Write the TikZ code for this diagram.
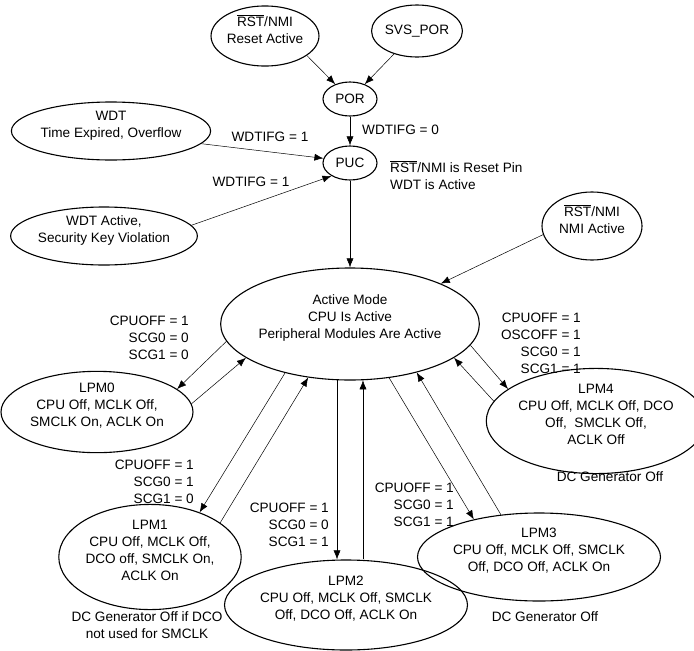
\documentclass[tikz,border=0pt]{standalone}
\usepackage{fontspec}
\setmainfont{Liberation Sans}
\usetikzlibrary{shapes.geometric,arrows.meta}
\newcommand{\rstbar}{$\overline{\mbox{RST}}$}

\begin{document}
\begin{tikzpicture}[x=1pt, y=-1pt, >={Latex[length=9pt,width=7pt]},
    font=\fontsize{13.6}{17}\selectfont,
    state/.style={ellipse, draw, line width=1.1pt, inner sep=0pt, align=center},
    multi/.style={state, text depth=14pt},
    conn/.style={->, line width=0.5pt},
    lbl/.style={inner sep=0pt, align=right, anchor=east},
    note/.style={inner sep=0pt, align=center}]

    \useasboundingbox (0,0) rectangle (694,651);

    % ----------------------------------------------------
    % 1. Sorgenti di reset
    % ----------------------------------------------------
    \node[multi, minimum width=100pt, minimum height=58pt] (rst) at (265,36) {\rstbar/NMI\\Reset Active};
    \node[state, minimum width=80pt, minimum height=52pt] (svs) at (417,31) {SVS\_POR};
    \node[state, minimum width=54pt, minimum height=34pt] (por) at (350,99) {POR};
    \node[state, minimum width=54pt, minimum height=34pt] (puc) at (350,163) {PUC};
    \node[multi, minimum width=172pt, minimum height=58pt] (wdtexp) at (111,131) {WDT\\Time Expired, Overflow};
    \node[multi, minimum width=174pt, minimum height=58pt] (wdtkey) at (104,236) {WDT Active,\\Security Key Violation};
    \node[multi, minimum width=100pt, minimum height=68pt] (nmi) at (592,226) {\rstbar/NMI\\NMI Active};

    \draw[conn] (rst.-25) -- (por.135);
    \draw[conn] (svs.-135) -- (por.45);
    \draw[conn] (por) -- (puc);
    \draw[conn] (wdtexp.-8) -- (puc.170);
    \draw[conn] (wdtkey.7) -- (puc.215);

    \node[note, anchor=west] (flag0) at (362,130) {WDTIFG = 0};
    \node[note] (flag1) at (270,137) {WDTIFG = 1};
    \node[note] (flag2) at (251,182) {WDTIFG = 1};
    \node[note, align=left, anchor=west] (pin) at (390,175) {\rstbar/NMI is Reset Pin\\WDT is Active};

    % ----------------------------------------------------
    % 2. Modo attivo e modi a basso consumo
    % ----------------------------------------------------
    \node[multi, minimum width=216pt, minimum height=112pt] (act) at (350,324) {Active Mode\\CPU Is Active\\Peripheral Modules Are Active};
    \node[multi, minimum width=192pt, minimum height=78pt] (lpm0) at (97,412) {LPM0\\CPU Off, MCLK Off,\\SMCLK On, ACLK On};
    \node[multi, minimum width=164pt, minimum height=86pt] (lpm1) at (150,557) {LPM1\\CPU Off, MCLK Off,\\DCO off, SMCLK On,\\ACLK On};
    \node[multi, minimum width=190pt, minimum height=90pt] (lpm2) at (346,605) {LPM2\\CPU Off, MCLK Off, SMCLK\\Off, DCO Off, ACLK On};
    \node[multi, minimum width=198pt, minimum height=88pt] (lpm3) at (539,557) {LPM3\\CPU Off, MCLK Off, SMCLK\\Off, DCO Off, ACLK On};
    \node[multi, minimum width=192pt, minimum height=84pt] (lpm4) at (596,421) {LPM4\\CPU Off, MCLK Off, DCO\\Off,\ \ SMCLK Off,\\ACLK Off};

    \draw[conn] (puc) -- (act);
    \draw[conn] (nmi.190) -- (act.24);

    \draw[conn] (act.188) -- (lpm0.16);
    \draw[conn] (lpm0.5) -- (act.198);
    \draw[conn] (act.217) -- (lpm1.42);
    \draw[conn] (lpm1.26) -- (act.232);
    \draw[conn] (act.257) -- (act.257 |- lpm2.north);
    \draw[conn] (lpm2.north -| act.283) -- (act.283);
    \draw[conn] (act.306) -- (lpm3.150);
    \draw[conn] (lpm3.132) -- (act.324);
    \draw[conn] (act.350) -- (lpm4.160);
    \draw[conn] (lpm4.169) -- (act.342);

    % bit di controllo
    \node[lbl] (bits0) at (189,338) {CPUOFF = 1\\SCG0 = 0\\SCG1 = 0};
    \node[lbl] (bits1) at (194,482) {CPUOFF = 1\\SCG0 = 1\\SCG1 = 0};
    \node[lbl] (bits2) at (329,525) {CPUOFF = 1\\SCG0 = 0\\SCG1 = 1};
    \node[lbl] (bits3) at (454,505) {CPUOFF = 1\\SCG0 = 1\\SCG1 = 1};
    \node[lbl] (bits4) at (581,343) {CPUOFF = 1\\OSCOFF = 1\\SCG0 = 1\\SCG1 = 1};

    % note sul generatore DC
    \node[note] (dc1) at (147,625) {DC Generator Off if DCO\\not used for SMCLK};
    \node[note] (dc3) at (545,617) {DC Generator Off};
    \node[note] (dc4) at (610,477) {DC Generator Off};

\end{tikzpicture}
\end{document}
